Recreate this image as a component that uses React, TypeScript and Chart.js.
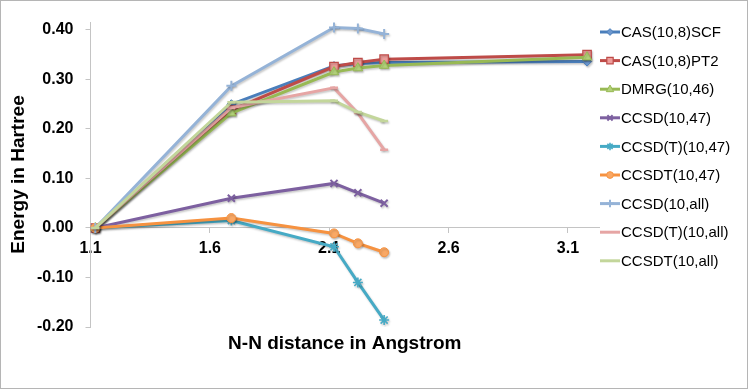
import React, { useEffect, useRef } from 'react';
import { Chart, registerables } from 'chart.js';

Chart.register(...registerables);

// N-N distance (Angstrom) of each computed point
const distances = [1.12, 1.69, 2.12, 2.22, 2.33, 3.18];

// Relative energies (Hartree)
const casScf = [0, 0.25, 0.327, 0.332, 0.334, 0.336];
const casPt2 = [0, 0.238, 0.326, 0.334, 0.341, 0.35];
const dmrg = [0, 0.232, 0.315, 0.323, 0.328, 0.345];
const ccsd47 = [0, 0.06, 0.09, 0.071, 0.05];
const ccsdT47 = [0, 0.015, -0.038, -0.11, -0.186];
const ccsdt47 = [0, 0.02, -0.011, -0.031, -0.049];
const ccsdAll = [0, 0.287, 0.405, 0.403, 0.392];
const ccsdTAll = [0, 0.243, 0.283, 0.232, 0.158];
const ccsdtAll = [0, 0.254, 0.257, 0.234, 0.216];

const seriesNames = [
  'CAS(10,8)SCF',
  'CAS(10,8)PT2',
  'DMRG(10,46)',
  'CCSD(10,47)',
  'CCSD(T)(10,47)',
  'CCSDT(10,47)',
  'CCSD(10,all)',
  'CCSD(T)(10,all)',
  'CCSDT(10,all)',
];
const seriesValues = [casScf, casPt2, dmrg, ccsd47, ccsdT47, ccsdt47, ccsdAll, ccsdTAll, ccsdtAll];

const xTickValues = [1.1, 1.6, 2.1, 2.6, 3.1];
const yTickValues = [-0.2, -0.1, 0, 0.1, 0.2, 0.3, 0.4];

const xTitle = 'N-N distance in Angstrom';
const yTitle = 'Energy in Hartree';

type Style = { line: string; fill: string; point: string; radius: number; pw: number };
const styles: Style[] = [
  { line: '#4A7EBB', fill: '#6C97CE', point: 'rectRot', radius: 4.5, pw: 1 },
  { line: '#BE4B48', fill: '#EE9D9B', point: 'rect', radius: 6, pw: 1.2 },
  { line: '#98B954', fill: '#B3D27A', point: 'triangle', radius: 5.5, pw: 1 },
  { line: '#7D60A0', fill: '#7D60A0', point: 'crossRot', radius: 5, pw: 2 },
  { line: '#46AAC5', fill: '#46AAC5', point: 'star', radius: 5, pw: 1.6 },
  { line: '#F69240', fill: '#F9A865', point: 'circle', radius: 4.5, pw: 1 },
  { line: '#95B3D7', fill: '#95B3D7', point: 'cross', radius: 5, pw: 2 },
  { line: '#E6A5A4', fill: '#E6A5A4', point: 'line', radius: 4, pw: 2.5 },
  { line: '#C3D69B', fill: '#C3D69B', point: 'line', radius: 4, pw: 2.5 },
];

const FONT = '"Liberation Sans", Arial, Helvetica, sans-serif';

function drawMarker(ctx: CanvasRenderingContext2D, s: Style, x: number, y: number, r: number) {
  ctx.save();
  ctx.fillStyle = s.fill;
  ctx.strokeStyle = s.line;
  ctx.lineWidth = s.pw;
  ctx.beginPath();
  switch (s.point) {
    case 'rectRot':
      ctx.moveTo(x, y - r); ctx.lineTo(x + r, y); ctx.lineTo(x, y + r); ctx.lineTo(x - r, y); ctx.closePath();
      ctx.fill(); ctx.stroke(); break;
    case 'rect': {
      const h = r * Math.SQRT1_2;
      ctx.rect(x - h, y - h, 2 * h, 2 * h); ctx.fill(); ctx.stroke(); break;
    }
    case 'triangle':
      ctx.moveTo(x, y - r); ctx.lineTo(x + r * 0.9, y + r * 0.6); ctx.lineTo(x - r * 0.9, y + r * 0.6); ctx.closePath();
      ctx.fill(); ctx.stroke(); break;
    case 'circle':
      ctx.arc(x, y, r, 0, Math.PI * 2); ctx.fill(); ctx.stroke(); break;
    case 'crossRot': {
      const d = r * 0.7;
      ctx.moveTo(x - d, y - d); ctx.lineTo(x + d, y + d); ctx.moveTo(x + d, y - d); ctx.lineTo(x - d, y + d); ctx.stroke(); break;
    }
    case 'cross':
      ctx.moveTo(x - r, y); ctx.lineTo(x + r, y); ctx.moveTo(x, y - r); ctx.lineTo(x, y + r); ctx.stroke(); break;
    case 'star': {
      const d = r * 0.7;
      ctx.moveTo(x - d, y - d); ctx.lineTo(x + d, y + d); ctx.moveTo(x + d, y - d); ctx.lineTo(x - d, y + d);
      ctx.moveTo(x, y - r); ctx.lineTo(x, y + r); ctx.stroke(); break;
    }
    case 'line':
      ctx.moveTo(x - r, y); ctx.lineTo(x + r, y); ctx.stroke(); break;
  }
  ctx.restore();
}

const extras = {
  id: 'extras',
  beforeDatasetsDraw(chart: any) {
    const ctx = chart.ctx;
    ctx.save();
    ctx.shadowColor = 'rgba(0,0,0,0.22)';
    ctx.shadowBlur = 2;
    ctx.shadowOffsetX = 1;
    ctx.shadowOffsetY = 1.5;
  },
  afterDatasetsDraw(chart: any) {
    chart.ctx.restore();
  },
  afterDraw(chart: any) {
    const ctx: CanvasRenderingContext2D = chart.ctx;
    const area = chart.chartArea;
    ctx.save();
    // legend
    ctx.font = `15px ${FONT}`;
    ctx.textBaseline = 'middle';
    ctx.textAlign = 'left';
    seriesNames.forEach((name, i) => {
      const s = styles[i];
      const y = 32 + i * 28.6;
      ctx.save();
      ctx.strokeStyle = s.line;
      ctx.lineWidth = 3;
      ctx.beginPath();
      ctx.moveTo(600, y);
      ctx.lineTo(620, y);
      ctx.stroke();
      ctx.restore();
      if (s.point !== 'line') drawMarker(ctx, s, 610, y, s.radius * 0.75);
      ctx.fillStyle = '#000';
      ctx.fillText(name, 621, y + 1);
    });
    // x axis title
    ctx.font = `bold 19px ${FONT}`;
    ctx.textAlign = 'center';
    ctx.fillStyle = '#000';
    ctx.fillText(xTitle, (area.left + area.right) / 2, 344);
    // border
    ctx.strokeStyle = '#b5b5b5';
    ctx.lineWidth = 1;
    ctx.strokeRect(0.5, 0.5, 747, 388);
    ctx.restore();
  },
};

export default function App() {
  const ref = useRef<HTMLCanvasElement>(null);
  useEffect(() => {
    if (!ref.current) return;
    const datasets = seriesValues.map((vals, i) => {
      const s = styles[i];
      return {
        label: seriesNames[i],
        data: vals.map((v, j) => ({ x: distances[j], y: v })),
        borderColor: s.line,
        backgroundColor: s.fill,
        borderWidth: 3,
        pointStyle: s.point as any,
        pointRadius: s.radius,
        pointBackgroundColor: s.fill,
        pointBorderColor: s.line,
        pointBorderWidth: s.pw,
        tension: 0,
        showLine: true,
        order: -i,
      };
    });
    const tickFont = { family: FONT, size: 16, weight: 'bold' as const };
    const chart = new Chart(ref.current, {
      type: 'scatter',
      data: { datasets },
      plugins: [extras],
      options: {
        animation: false,
        responsive: false,
        devicePixelRatio: 1,
        layout: { padding: { left: 0, top: 22, right: 149, bottom: 62 } },
        plugins: { legend: { display: false }, tooltip: { enabled: false } },
        scales: {
          x: {
            type: 'linear',
            position: { y: 0 } as any,
            min: 1.1,
            max: 3.23,
            afterBuildTicks: (s: any) => {
              s.ticks = xTickValues.map((v) => ({ value: v }));
            },
            ticks: {
              callback: (v: any) => Number(v).toFixed(1),
              font: tickFont,
              color: '#000',
              padding: 6,
              maxRotation: 0,
              autoSkip: false,
            },
            grid: { drawOnChartArea: false, color: '#c4c4c4', tickLength: 5 },
            border: { color: '#c4c4c4' },
          },
          y: {
            type: 'linear',
            position: 'left',
            min: -0.2,
            max: 0.416,
            afterBuildTicks: (s: any) => {
              s.ticks = yTickValues.map((v) => ({ value: v }));
            },
            afterFit: (s: any) => {
              s.width = 90.5;
            },
            ticks: {
              callback: (v: any) => Number(v).toFixed(2),
              font: tickFont,
              color: '#000',
              padding: 12,
            },
            grid: { drawOnChartArea: false, color: '#c4c4c4', tickLength: 5 },
            border: { color: '#c4c4c4' },
            title: {
              display: true,
              text: yTitle,
              color: '#000',
              font: { family: FONT, size: 19, weight: 'bold' },
              padding: { top: 7, bottom: 0 },
            },
          },
        },
      },
    });
    return () => chart.destroy();
  }, []);
  return (
    <div style={{ position: 'fixed', left: 0, top: 0, width: 748, height: 389, background: '#fff' }}>
      <canvas ref={ref} width={748} height={389} style={{ width: 748, height: 389, display: 'block' }} />
    </div>
  );
}
